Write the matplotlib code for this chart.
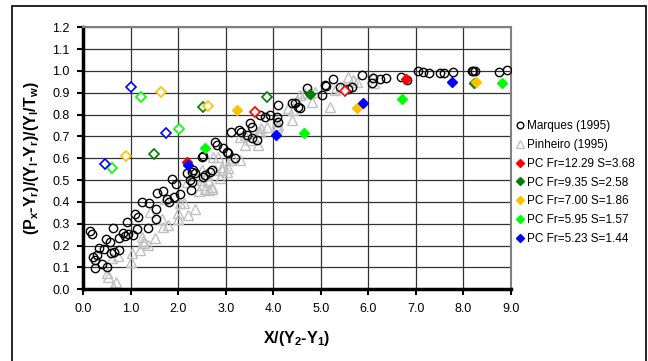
import matplotlib
matplotlib.use("Agg")
import matplotlib.pyplot as plt
from matplotlib.patches import Rectangle
from matplotlib.ticker import FormatStrFormatter, MultipleLocator

plt.rcParams.update(
    {
        "font.family": ["Liberation Sans", "DejaVu Sans"],
        "mathtext.fontset": "custom",
        "mathtext.rm": "Liberation Sans",
        "mathtext.bf": "Liberation Sans:bold",
    }
)

# Marques (1995): X/(Y2-Y1), dimensionless position
marques_x = [
    0.14, 0.18, 0.21, 0.25, 0.28, 0.25, 0.32, 0.39, 0.44, 0.48, 0.49, 0.56, 0.58,
    0.62, 0.65, 0.76, 0.76, 0.84, 0.88, 0.93, 0.95, 1.05, 1.09, 1.14, 1.16, 1.24,
    1.36, 1.39, 1.53, 1.53, 1.56, 1.68, 1.77, 1.81, 1.86, 1.91, 1.95, 2.04, 2.18,
    2.25, 2.27, 2.28, 2.32, 2.35, 2.28, 2.53, 2.56, 2.67, 2.70, 2.49, 2.51, 2.77,
    2.81, 2.95, 3.02, 3.05, 3.19, 3.12, 3.28, 3.33, 3.44, 3.55, 3.65, 3.51, 3.55,
    3.72, 3.83, 3.93, 4.07, 4.10, 4.10, 4.39, 4.46, 4.53, 4.56, 4.70, 5.02, 5.09,
    5.11, 5.26, 5.40, 5.58, 5.65, 5.86, 6.07, 6.10, 6.25, 6.37, 6.69, 6.82, 7.05,
    7.15, 7.28, 7.51, 7.59, 7.79, 8.18, 8.21, 8.24, 8.75, 8.93,
]
marques_y = [
    0.268, 0.252, 0.147, 0.134, 0.157, 0.096, 0.188, 0.116, 0.185, 0.232, 0.104, 0.215, 0.165,
    0.282, 0.172, 0.180, 0.234, 0.257, 0.245, 0.310, 0.255, 0.249, 0.345, 0.275, 0.333, 0.400,
    0.282, 0.394, 0.368, 0.320, 0.443, 0.452, 0.412, 0.401, 0.504, 0.424, 0.481, 0.437, 0.531,
    0.500, 0.455, 0.536, 0.546, 0.531, 0.493, 0.516, 0.524, 0.539, 0.546, 0.607, 0.610, 0.676,
    0.661, 0.646, 0.630, 0.623, 0.600, 0.722, 0.730, 0.722, 0.707, 0.692, 0.684, 0.760, 0.745,
    0.798, 0.791, 0.798, 0.791, 0.768, 0.844, 0.852, 0.852, 0.836, 0.829, 0.921, 0.890, 0.936,
    0.931, 0.962, 0.928, 0.916, 0.925, 0.982, 0.946, 0.967, 0.962, 0.967, 0.974, 0.959, 1.000,
    0.997, 0.990, 0.990, 0.990, 0.994, 1.000, 1.000, 1.000, 0.997, 1.004,
]

# Pinheiro (1995)
pinheiro_x = [
    0.50, 0.53, 0.63, 0.68, 0.60, 0.72, 1.00, 1.02, 1.19, 1.23, 1.25, 1.28, 1.37,
    1.40, 1.51, 1.66, 1.68, 1.72, 1.79, 2.00, 2.00, 2.04, 2.13, 2.20, 2.35, 2.18,
    2.44, 2.50, 2.57, 2.64, 2.72, 2.49, 2.63, 2.70, 2.88, 2.91, 3.02, 2.49, 2.60,
    2.77, 2.91, 3.05, 2.74, 2.84, 3.09, 3.16, 3.30, 3.30, 3.40, 3.51, 3.40, 3.68,
    3.72, 3.68, 3.75, 3.86, 4.07, 4.07, 4.10, 4.32, 4.39, 4.42, 4.49, 4.56, 4.67,
    4.77, 4.88, 4.81, 5.19, 5.30, 5.40, 5.51, 5.58, 5.68, 5.77, 6.10, 6.12,
]
pinheiro_y = [
    0.076, 0.055, 0.012, 0.035, 0.142, 0.152, 0.127, 0.168, 0.180, 0.241, 0.223, 0.213, 0.203,
    0.356, 0.234, 0.321, 0.287, 0.412, 0.295, 0.321, 0.351, 0.394, 0.397, 0.340, 0.368, 0.493,
    0.452, 0.478, 0.458, 0.455, 0.460, 0.500, 0.500, 0.470, 0.508, 0.546, 0.539, 0.546, 0.524,
    0.546, 0.562, 0.554, 0.607, 0.607, 0.592, 0.600, 0.592, 0.699, 0.707, 0.684, 0.661, 0.661,
    0.722, 0.722, 0.740, 0.745, 0.768, 0.745, 0.753, 0.829, 0.775, 0.822, 0.867, 0.890, 0.898,
    0.898, 0.905, 0.859, 0.836, 0.913, 0.920, 0.925, 0.971, 0.959, 0.951, 0.974, 0.945,
]

# PC runs: (label, colour, filled points, open points)
pc_labels = [
    "PC Fr=12.29 S=3.68",
    "PC Fr=9.35 S=2.58",
    "PC Fr=7.00 S=1.86",
    "PC Fr=5.95 S=1.57",
    "PC Fr=5.23 S=1.44",
]
pc_colors = ["#FF0000", "#008000", "#FFC000", "#00FF00", "#0000FF"]
pc_fill_x = [[2.18, 6.79], [4.77, 8.22], [3.24, 5.77, 8.26], [2.56, 4.65, 6.72, 8.82], [2.20, 4.06, 5.89, 7.76]]
pc_fill_y = [[0.582, 0.963], [0.895, 0.944], [0.821, 0.829, 0.951], [0.646, 0.717, 0.872, 0.946], [0.569, 0.705, 0.852, 0.951]]
pc_open_x = [[3.61, 5.52], [1.49, 2.53, 3.86], [0.89, 1.63, 2.62], [0.61, 1.21, 2.02], [0.46, 1.00, 1.74]]
pc_open_y = [[0.810, 0.910], [0.620, 0.834, 0.882], [0.612, 0.902, 0.840], [0.557, 0.882, 0.736], [0.575, 0.925, 0.717]]

fig = plt.figure(figsize=(6.48, 3.61), dpi=100)
ax = fig.add_axes([0.1286, 0.1986, 0.6595, 0.7258])

ax.plot(marques_x, marques_y, "o", ls="none", ms=6, mfc="none", mec="black", mew=1.0,
        label="Marques (1995)", zorder=3)
ax.plot(pinheiro_x, pinheiro_y, "^", ls="none", ms=7, mfc="none", mec="#C0C0C0", mew=1.0,
        label="Pinheiro (1995)", zorder=2)

for label, color, fx, fy, ox, oy in zip(pc_labels, pc_colors, pc_fill_x, pc_fill_y, pc_open_x, pc_open_y):
    ax.plot(fx, fy, "D", ls="none", ms=5.5, mfc=color, mec=color, mew=1.0, label=label, zorder=4)
    ax.plot(ox, oy, "D", ls="none", ms=5.5, mfc="white", mec=color, mew=1.2, zorder=4)

ax.set_xlim(0, 9)
ax.set_ylim(0, 1.2)
ax.xaxis.set_major_locator(MultipleLocator(1.0))
ax.yaxis.set_major_locator(MultipleLocator(0.1))
ax.xaxis.set_major_formatter(FormatStrFormatter("%.1f"))
ax.yaxis.set_major_formatter(FormatStrFormatter("%.1f"))
ax.tick_params(direction="out", length=4, width=1.5, labelsize=9, pad=6)
ax.grid(True, color="#333333", lw=0.9)
ax.set_axisbelow(True)

for side in ("left", "bottom"):
    ax.spines[side].set_linewidth(2.5)
    ax.spines[side].set_color("black")
for side in ("top", "right"):
    ax.spines[side].set_linewidth(1.5)
    ax.spines[side].set_color("#808080")

ax.set_xlabel(r"X/(Y$_\mathbf{2}$-Y$_\mathbf{1}$)", fontsize=11.5, fontweight="bold", labelpad=10)
ax.set_ylabel(r"(P$_\mathbf{x}$-Y$_\mathbf{r}$)/(Y$_\mathbf{l}$-Y$_\mathbf{r}$)/(Y$_\mathbf{l}$/T$_\mathbf{w}$)",
              fontsize=11.5, fontweight="bold", labelpad=8)

fig.legend(loc="upper left", bbox_to_anchor=(516 / 648, 1 - 120 / 361), frameon=False,
           fontsize=8.5, handlelength=0.6, handletextpad=0.3, labelspacing=0.58,
           markerscale=0.8, borderaxespad=0, borderpad=0)

fig.patches.append(Rectangle((12 / 648, -0.02), 634 / 648, (361 - 6) / 361 + 0.02,
                             transform=fig.transFigure, fill=False, ec="black", lw=1.2))

fig.savefig("out.png", dpi=100)
